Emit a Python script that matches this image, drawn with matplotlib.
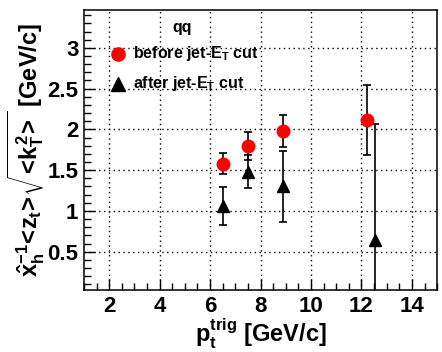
import numpy as np
import matplotlib
matplotlib.use("Agg")
import matplotlib.pyplot as plt
from matplotlib.ticker import MultipleLocator

# du lieu doc tu hinh
x_before = [6.5, 7.5, 8.9, 12.2]
y_before = [1.58, 1.80, 1.98, 2.12]
err_before = [0.13, 0.17, 0.20, 0.43]

x_after = [6.5, 7.5, 8.9, 12.55]
y_after = [1.06, 1.48, 1.30, 0.64]
err_after = [0.23, 0.20, 0.43, 1.42]

label_before = r"before jet-E$_{T}$ cut"
label_after = r"after jet-E$_{T}$ cut"
title_text = "qq"

plt.rcParams["font.family"] = ["Liberation Sans", "DejaVu Sans"]
plt.rcParams["font.weight"] = "bold"
plt.rcParams["mathtext.fontset"] = "custom"
plt.rcParams["mathtext.rm"] = "Liberation Sans:bold"
plt.rcParams["mathtext.it"] = "Liberation Sans:bold"
plt.rcParams["mathtext.bf"] = "Liberation Sans:bold"
plt.rcParams["mathtext.sf"] = "Liberation Sans:bold"

fig = plt.figure(figsize=(4.42, 3.52), dpi=100)
ax = fig.add_axes([0.190, 0.176, 0.799, 0.797])

ax.set_xlim(1, 15)
ax.set_ylim(0.03, 3.47)

ax.xaxis.set_major_locator(MultipleLocator(2))
ax.xaxis.set_minor_locator(MultipleLocator(0.5))
ax.yaxis.set_major_locator(MultipleLocator(0.5))
ax.yaxis.set_minor_locator(MultipleLocator(0.1))
ax.tick_params(which="both", direction="in", top=False, right=False, width=1, color="black")
ax.tick_params(which="major", length=8, labelsize=16, pad=4)
ax.tick_params(which="minor", length=5)
ax.set_yticks([0.5, 1, 1.5, 2, 2.5, 3])
ax.set_yticklabels(["0.5", "1", "1.5", "2", "2.5", "3"])
for lab in ax.get_xticklabels() + ax.get_yticklabels():
    lab.set_fontweight("bold")

ax.grid(True, which="major", linestyle=(0, (1, 2.5)), color="black", linewidth=1)
ax.set_axisbelow(True)
for s in ax.spines.values():
    s.set_linewidth(1.1)

ax.errorbar(x_before, y_before, yerr=err_before, fmt="o", color="red", ecolor="black",
            markersize=9, elinewidth=1.2, capsize=3, capthick=1.2, zorder=3)
ax.errorbar(x_after, y_after, yerr=err_after, fmt="^", color="black", ecolor="black",
            markersize=9, elinewidth=1.2, capsize=3, capthick=1.2, zorder=3)

# legende kieu ROOT
ax.text(0.278, 0.936, title_text, transform=ax.transAxes, fontsize=11.5, fontweight="bold",
        ha="center", va="center")
ax.plot([0.097], [0.843], "o", color="red", markersize=9.5, transform=ax.transAxes, clip_on=False)
ax.text(0.138, 0.843, label_before, transform=ax.transAxes, fontsize=11.5, fontweight="bold",
        va="center")
ax.plot([0.097], [0.736], "^", color="black", markersize=9.5, transform=ax.transAxes, clip_on=False)
ax.text(0.138, 0.736, label_after, transform=ax.transAxes, fontsize=11.5, fontweight="bold",
        va="center")

ax.set_xlabel(r"p$_{t}^{trig}$ [GeV/c]", fontsize=17, fontweight="bold", labelpad=0)
ax.set_ylabel(r"$\hat{x}_{h}^{-1}\!<\!z_{t}\!>\!\sqrt{\!<\!k_{T}^{2}\!>}$ [GeV/c]",
              fontsize=17, fontweight="bold", labelpad=0)

fig.savefig("out.png", dpi=100)
